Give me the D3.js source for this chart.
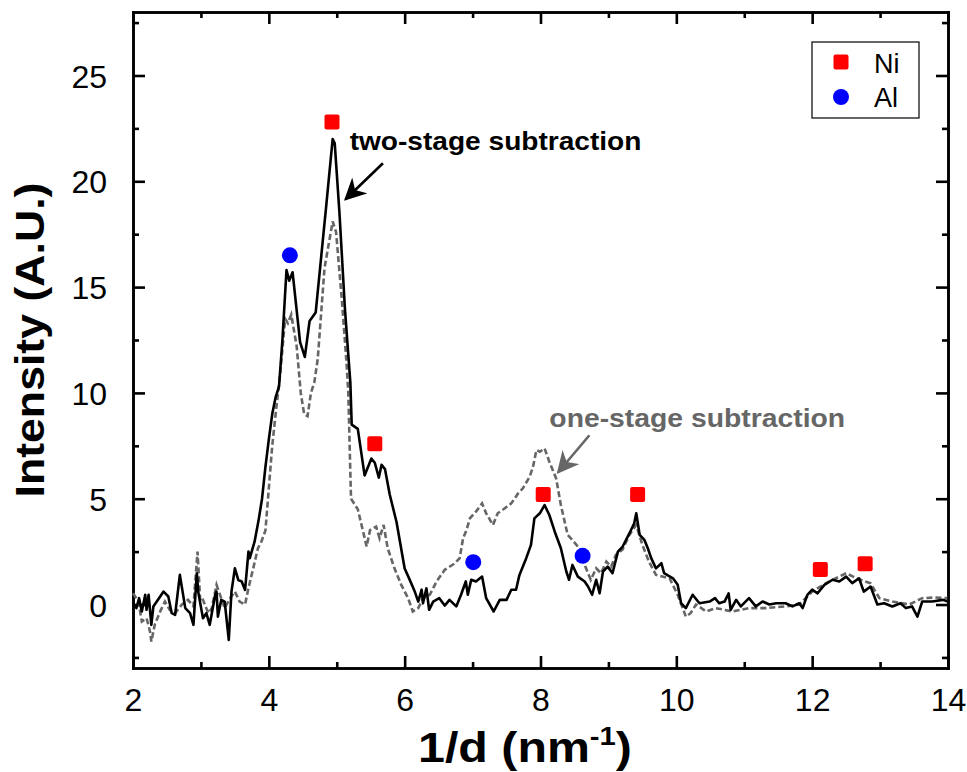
<!DOCTYPE html>
<html>
<head>
<meta charset="utf-8">
<script src="https://cdn.jsdelivr.net/npm/d3@7"></script>
<style>
  html, body { margin: 0; padding: 0; background: #fff; }
  svg { display: block; font-family: "Liberation Sans", Arial, sans-serif; }
</style>
</head>
<body>
<svg id="chart" width="967" height="772"></svg>
<script>
// Intensity profiles vs 1/d (nm^-1)
const twoStage = [
  [2.00,0.06],[2.05,-0.17],[2.09,0.30],[2.13,-0.33],[2.18,0.46],[2.20,-0.25],[2.23,0.46],[2.27,-0.96],[2.30,-0.09],[2.35,0.14],
  [2.45,0.61],[2.52,0.38],[2.57,-0.41],[2.62,-0.49],[2.69,1.40],[2.77,-0.17],[2.84,-0.41],[2.89,-0.96],[2.94,1.48],[2.96,0.61],
  [3.03,-0.65],[3.08,-0.41],[3.13,-0.96],[3.21,0.46],[3.23,0.61],[3.25,-0.57],[3.30,0.22],[3.35,0.14],[3.41,-1.67],[3.45,0.61],
  [3.50,1.71],[3.55,1.16],[3.60,1.09],[3.65,0.69],[3.70,2.50],[3.72,2.19],[3.79,2.97],[3.85,4.0],[3.90,5.0],[3.95,6.5],
  [4.00,7.8],[4.05,9.0],[4.10,9.8],[4.15,10.3],[4.20,12.5],[4.26,15.8],[4.30,15.3],[4.35,15.7],[4.46,12.4],[4.53,11.7],
  [4.60,13.4],[4.69,13.8],[4.85,19.0],[4.94,22.0],[4.97,21.8],[5.04,18.5],[5.12,14.0],[5.17,11.8],[5.20,10.5],[5.22,8.5],
  [5.31,8.3],[5.41,6.1],[5.51,6.9],[5.56,6.7],[5.62,6.0],[5.66,6.6],[5.71,6.4],[5.78,5.2],[5.88,3.9],[6.00,1.7],
  [6.07,1.2],[6.15,0.6],[6.20,0.14],[6.25,0.7],[6.27,0.06],[6.32,0.77],[6.36,-0.25],[6.42,0.14],[6.51,0.30],[6.59,-0.05],
  [6.66,0.22],[6.76,-0.09],[6.83,0.46],[6.90,1.09],[6.93,0.46],[6.98,1.17],[7.05,1.09],[7.14,1.32],[7.20,0.30],[7.31,-0.33],
  [7.40,0.22],[7.50,0.22],[7.57,0.70],[7.64,0.70],[7.69,1.40],[7.79,2.19],[7.86,2.82],[7.91,4.07],[7.99,4.31],[8.06,4.70],
  [8.13,4.23],[8.21,3.44],[8.30,2.66],[8.38,1.56],[8.42,1.17],[8.47,1.87],[8.55,1.32],[8.65,1.09],[8.70,0.85],[8.76,0.46],
  [8.82,1.17],[8.87,0.53],[8.92,1.56],[8.99,1.79],[9.06,1.48],[9.14,2.50],[9.21,2.74],[9.31,3.37],[9.38,3.84],[9.41,4.31],
  [9.46,3.29],[9.53,3.05],[9.58,2.66],[9.63,2.19],[9.70,1.71],[9.78,1.95],[9.82,1.48],[9.95,1.24],[10.02,0.93],[10.07,0.06],
  [10.14,-0.17],[10.24,0.46],[10.34,0.06],[10.49,0.14],[10.57,0.30],[10.63,0.06],[10.71,0.14],[10.77,0.53],[10.80,-0.25],[10.88,0.22],
  [10.95,-0.09],[11.07,0.30],[11.17,-0.09],[11.27,0.14],[11.37,0.0],[11.47,0.06],[11.61,0.06],[11.71,-0.09],[11.81,0.06],[11.86,-0.17],
  [11.93,0.46],[12.00,0.70],[12.08,0.53],[12.18,0.93],[12.30,1.17],[12.40,1.09],[12.50,1.32],[12.59,1.01],[12.69,1.24],[12.76,0.61],
  [12.86,0.85],[12.96,0.0],[13.06,0.06],[13.18,-0.09],[13.30,0.06],[13.38,-0.17],[13.47,-0.09],[13.55,-0.57],[13.62,0.14],[13.77,0.14],
  [13.92,0.22],[14.00,0.14]
];

const oneStage = [
  [2.00,0.53],[2.08,0.14],[2.13,-0.80],[2.20,-0.65],[2.25,-1.27],[2.27,-1.75],[2.32,-0.96],[2.40,-0.33],[2.47,0.14],[2.54,-0.25],
  [2.62,-0.41],[2.72,0.0],[2.81,0.22],[2.89,-0.09],[2.95,2.50],[2.99,0.14],[3.03,0.22],[3.11,-0.41],[3.16,-0.17],[3.23,0.93],
  [3.28,0.46],[3.35,-0.17],[3.43,0.30],[3.50,0.61],[3.57,0.14],[3.65,0.0],[3.70,0.77],[3.77,1.71],[3.84,2.66],[3.89,2.97],
  [3.95,3.5],[4.00,5.5],[4.05,7.5],[4.10,9.0],[4.17,11.0],[4.24,13.5],[4.28,13.3],[4.33,13.7],[4.41,12.2],[4.47,10.0],
  [4.52,9.0],[4.57,8.9],[4.62,10.0],[4.67,10.5],[4.72,11.6],[4.82,15.9],[4.94,18.1],[4.99,17.6],[5.07,14.6],[5.14,11.6],
  [5.17,10.0],[5.21,5.0],[5.31,4.5],[5.44,2.74],[5.49,3.52],[5.58,3.68],[5.63,3.13],[5.69,3.76],[5.75,2.66],[5.85,1.71],
  [5.95,0.93],[6.05,0.30],[6.12,-0.33],[6.20,-0.17],[6.27,0.30],[6.37,0.46],[6.47,1.09],[6.59,1.64],[6.74,1.95],[6.81,2.19],
  [6.86,3.13],[6.91,3.52],[6.96,4.07],[7.05,4.39],[7.14,4.78],[7.20,4.31],[7.30,3.76],[7.37,4.31],[7.47,4.54],[7.57,4.78],
  [7.67,5.25],[7.74,5.49],[7.84,6.04],[7.89,6.51],[7.94,7.30],[7.99,7.22],[8.06,7.38],[8.13,6.75],[8.23,5.96],[8.30,4.70],
  [8.40,3.29],[8.47,3.05],[8.57,2.66],[8.67,1.71],[8.74,1.17],[8.82,1.71],[8.89,1.48],[8.97,2.03],[9.04,1.79],[9.11,2.35],
  [9.21,2.60],[9.31,3.30],[9.41,3.76],[9.50,2.82],[9.60,2.00],[9.70,1.40],[9.90,1.24],[10.02,0.46],[10.14,-0.57],[10.21,-0.41],
  [10.29,0.0],[10.44,-0.33],[10.58,-0.17],[10.83,-0.33],[11.07,-0.17],[11.32,-0.17],[11.61,-0.09],[11.81,0.0],[12.00,0.61],[12.20,1.00],
  [12.35,1.24],[12.50,1.48],[12.65,1.24],[12.86,1.00],[12.99,0.30],[13.18,0.14],[13.43,0.0],[13.62,0.30],[13.81,0.33],[13.99,0.30]
];

// Peak markers
const niX = [4.93, 5.56, 8.04, 9.43, 12.12, 12.78];
const niY = [22.8, 7.6, 5.2, 5.2, 1.65, 1.93];
const alX = [4.31, 7.01, 8.62];
const alY = [16.5, 2.0, 2.3];

const xTicks = [2, 4, 6, 8, 10, 12, 14];
const yTicks = [0, 5, 10, 15, 20, 25];
const legendLabels = ["Ni", "Al"];

const svg = d3.select("#chart");
const pLeft = 133, pRight = 948, pTop = 12, pBottom = 668;

const x = d3.scaleLinear().domain([2, 14]).range([pLeft, pRight]);
const y = d3.scaleLinear().domain([-3, 28]).range([pBottom, pTop]);

// Axes with inward ticks on all four sides
const xMinor = d3.range(3, 14, 2);
const yMinor = d3.range(-2.5, 28, 5);

function drawAxis(axis, tx, ty, cls) {
  const g = svg.append("g").attr("class", cls).attr("transform", `translate(${tx},${ty})`).call(axis);
  g.selectAll("path, line").attr("stroke", "#000").attr("stroke-width", 2.6);
  g.select(".domain").attr("stroke-linecap", "square");
  return g;
}

// minor ticks (no labels)
drawAxis(d3.axisBottom(x).tickValues(xMinor).tickSize(-6).tickSizeOuter(0).tickFormat(""), 0, pBottom, "xb-minor");
drawAxis(d3.axisTop(x).tickValues(xMinor).tickSize(-6).tickSizeOuter(0).tickFormat(""), 0, pTop, "xt-minor");
drawAxis(d3.axisLeft(y).tickValues(yMinor).tickSize(-6).tickSizeOuter(0).tickFormat(""), pLeft, 0, "yl-minor");
drawAxis(d3.axisRight(y).tickValues(yMinor).tickSize(-6).tickSizeOuter(0).tickFormat(""), pRight, 0, "yr-minor");

// major ticks
drawAxis(d3.axisBottom(x).tickValues(xTicks).tickSize(-12).tickSizeOuter(0).tickPadding(20), 0, pBottom, "xb");
drawAxis(d3.axisTop(x).tickValues(xTicks).tickSize(-12).tickSizeOuter(0).tickFormat(""), 0, pTop, "xt");
drawAxis(d3.axisLeft(y).tickValues(yTicks).tickSize(-12).tickSizeOuter(0).tickPadding(26), pLeft, 0, "yl");
drawAxis(d3.axisRight(y).tickValues(yTicks).tickSize(-12).tickSizeOuter(0).tickFormat(""), pRight, 0, "yr");

svg.selectAll(".xb text, .yl text")
  .attr("font-family", "Liberation Sans, Arial, sans-serif")
  .attr("font-size", 32)
  .attr("fill", "#000");
svg.selectAll(".xb text").attr("dy", "0.71em");
svg.selectAll(".yl text").attr("dy", "0.36em");

// Curves
const line = d3.line().x(d => x(d[0])).y(d => y(d[1]));
const plot = svg.append("g");

plot.append("path")
  .datum(oneStage)
  .attr("d", line)
  .attr("fill", "none")
  .attr("stroke", "#666")
  .attr("stroke-width", 2.6)
  .attr("stroke-dasharray", "6,3");

plot.append("path")
  .datum(twoStage)
  .attr("d", line)
  .attr("fill", "none")
  .attr("stroke", "#000")
  .attr("stroke-width", 2.6)
  .attr("stroke-linejoin", "round");

// Markers
const sq = 15;
plot.selectAll("rect.ni")
  .data(niX.map((v, i) => [v, niY[i]]))
  .join("rect")
  .attr("class", "ni")
  .attr("x", d => x(d[0]) - sq / 2)
  .attr("y", d => y(d[1]) - sq / 2)
  .attr("width", sq).attr("height", sq)
  .attr("rx", 2)
  .attr("fill", "#ff0000");

plot.selectAll("circle.al")
  .data(alX.map((v, i) => [v, alY[i]]))
  .join("circle")
  .attr("class", "al")
  .attr("cx", d => x(d[0]))
  .attr("cy", d => y(d[1]))
  .attr("r", 8)
  .attr("fill", "#0000ff");

// Text helper: places a label (optionally rotated) and stretches it along its baseline to a given length
function wideText(px, py, anchor, width, build, angle = 0) {
  const g = svg.append("g");
  const t = g.append("text").attr("text-anchor", anchor);
  build(t);
  const w = t.node().getBBox().width;
  const s = w > 0 ? width / w : 1;
  g.attr("transform", `translate(${px},${py}) rotate(${angle}) scale(${s},1)`);
  return g;
}

// Annotations
const defs = svg.append("defs");
function arrowMarker(id, color) {
  defs.append("marker")
    .attr("id", id)
    .attr("viewBox", "0 0 10 10")
    .attr("refX", 9).attr("refY", 5)
    .attr("markerWidth", 8.5).attr("markerHeight", 8.5)
    .attr("markerUnits", "strokeWidth")
    .attr("orient", "auto")
    .append("path")
    .attr("d", "M0,0 L10,5 L0,10 L3,5 Z")
    .attr("fill", color);
}
arrowMarker("arrowBlack", "#000");
arrowMarker("arrowGray", "#666");

svg.append("line")
  .attr("x1", x(5.68)).attr("y1", y(20.85))
  .attr("x2", x(5.13)).attr("y2", y(19.15))
  .attr("stroke", "#000").attr("stroke-width", 2.6)
  .attr("marker-end", "url(#arrowBlack)");

wideText(x(5.19), y(21.47), "start", 292, t => t
  .attr("font-size", 25).attr("font-weight", "bold").attr("fill", "#000")
  .text("two-stage subtraction"));

svg.append("line")
  .attr("x1", x(8.72)).attr("y1", y(8.0))
  .attr("x2", x(8.26)).attr("y2", y(6.25))
  .attr("stroke", "#666").attr("stroke-width", 2.6)
  .attr("marker-end", "url(#arrowGray)");

wideText(x(8.13), y(8.4), "start", 296, t => t
  .attr("font-size", 25).attr("font-weight", "bold").attr("fill", "#666")
  .text("one-stage subtraction"));

// Legend
const lg = svg.append("g").attr("transform", "translate(812,42)");
lg.append("rect").attr("width", 107).attr("height", 76)
  .attr("fill", "#fff").attr("stroke", "#000").attr("stroke-width", 1.2);
lg.append("rect").attr("x", 29 - sq / 2).attr("y", 20 - sq / 2).attr("width", sq).attr("height", sq)
  .attr("rx", 2).attr("fill", "#ff0000");
lg.append("circle").attr("cx", 29).attr("cy", 55).attr("r", 8).attr("fill", "#0000ff");
lg.selectAll("text.lbl").data(legendLabels).join("text")
  .attr("class", "lbl")
  .attr("x", 62).attr("y", (d, i) => 31 + i * 34)
  .attr("font-size", 27).attr("fill", "#000")
  .text(d => d);

// Axis titles
wideText(525, 762, "middle", 214, t => {
  t.attr("font-size", 43).attr("font-weight", "bold").attr("fill", "#000");
  t.append("tspan").text("1/d (nm");
  t.append("tspan").attr("font-size", 26).attr("dy", -17).text("-1");
  t.append("tspan").attr("dy", 17).text(")");
});

wideText(44, 340, "middle", 315, t => t
  .attr("font-size", 41).attr("font-weight", "bold").attr("fill", "#000")
  .text("Intensity (A.U.)"), -90);
</script>
</body>
</html>
